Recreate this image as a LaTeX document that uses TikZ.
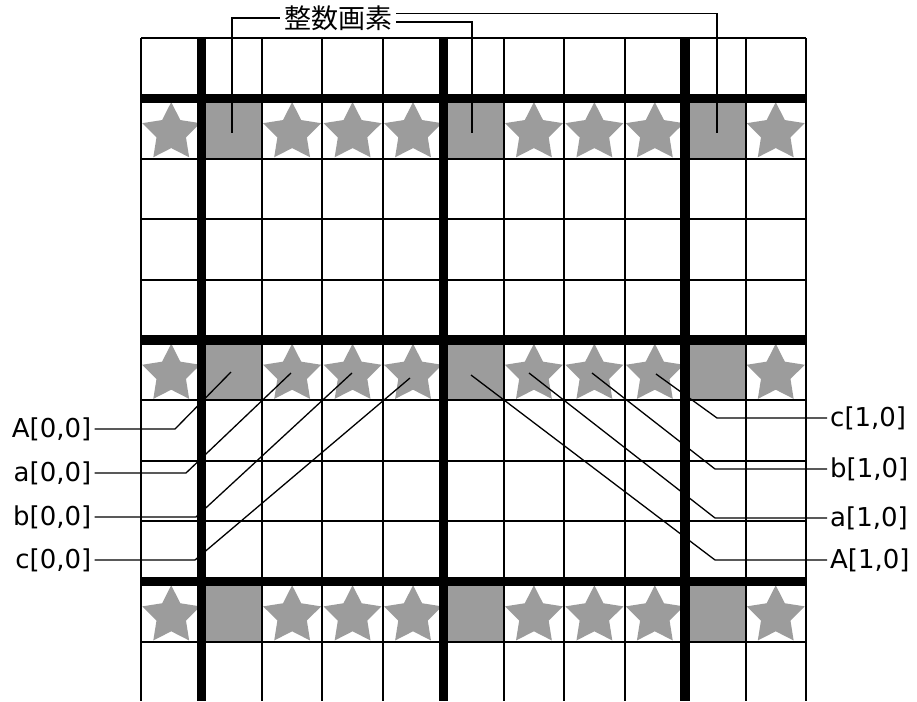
\documentclass[tikz,border=0pt]{standalone}
\usepackage{fontspec}
\setmainfont{DejaVu Sans}
\newfontfamily\jpfont{Noto Sans CJK JP}
\definecolor{pixgray}{RGB}{156,156,156}
\tikzset{
  lbl/.style={inner sep=3pt, font=\fontsize{26}{30}\selectfont},
  leader/.style={line width=1.3pt, black},
  thinline/.style={line width=2pt, black},
  thickline/.style={line width=9.5pt, black},
  cellfill/.style={fill=pixgray},
}
\begin{document}
\begin{tikzpicture}[x=1pt,y=-1pt]
\useasboundingbox (0,0) rectangle (917,701);
\fill[white] (0,0) rectangle (917,701);

% gray integer pixels
\foreach \r in {1,5,9}{
  \foreach \c in {1,5,9}{
    \fill[cellfill] ({141+\c*60.45},{38+\r*60.4}) rectangle ({141+(\c+1)*60.45},{38+(\r+1)*60.4});
  }
}
% stars
\foreach \r in {1,5,9}{
  \foreach \c in {0,2,3,4,6,7,8,10}{
    \fill[pixgray,shift={({141+(\c+0.5)*60.45},{38+(\r+0.5)*60.4+4})}]
      (-90:30.5) -- (-54:15.5) -- (-18:30.5) -- (18:15.5) -- (54:30.5) -- (90:15.5)
      -- (126:30.5) -- (162:15.5) -- (198:30.5) -- (234:15.5) -- cycle;
  }
}

% labels
\node[lbl, anchor=east] (lA0) at (94.5,429) {A[0,0]};
\node[lbl, anchor=east] (la0) at (94.5,473) {a[0,0]};
\node[lbl, anchor=east] (lb0) at (94.5,517) {b[0,0]};
\node[lbl, anchor=east] (lc0) at (94.5,560) {c[0,0]};
\node[lbl, anchor=west] (lc1) at (827,418) {c[1,0]};
\node[lbl, anchor=west] (lb1) at (827,469) {b[1,0]};
\node[lbl, anchor=west] (la1) at (827,518) {a[1,0]};
\node[lbl, anchor=west] (lA1) at (827,560) {A[1,0]};
\node[inner sep=4pt, font=\jpfont\fontsize{27}{30}\selectfont] (title) at (338,18) {整数画素};

% targets and bends
\coordinate (tA0) at (231,372);
\coordinate (ta0) at (291,373);
\coordinate (tb0) at (352,373);
\coordinate (tc0) at (410,378);
\coordinate (tc1) at (656,374);
\coordinate (tb1) at (592,373);
\coordinate (ta1) at (529,373);
\coordinate (tA1) at (471,375);
\coordinate (bA0) at (175,429);
\coordinate (ba0) at (186,473);
\coordinate (bb0) at (196,517);
\coordinate (bc0) at (195,560);
\coordinate (bc1) at (717,418);
\coordinate (bb1) at (715,469);
\coordinate (ba1) at (715,518);
\coordinate (bA1) at (715,560);
\coordinate (p1) at (232,133);
\coordinate (p5) at (472,133);
\coordinate (p9) at (717,133);

\draw[leader] (lA0.east) -- (bA0) -- (tA0);
\draw[leader] (la0.east) -- (ba0) -- (ta0);
\draw[leader] (lb0.east) -- (bb0) -- (tb0);
\draw[leader] (lc0.east) -- (bc0) -- (tc0);
\draw[leader] (lc1.west) -- (bc1) -- (tc1);
\draw[leader] (lb1.west) -- (bb1) -- (tb1);
\draw[leader] (la1.west) -- (ba1) -- (ta1);
\draw[leader] (lA1.west) -- (bA1) -- (tA1);
\draw[leader] (title.west) -| (p1);
\draw[leader] ([yshift=-4pt]title.east) -| (p5);
\draw[leader] ([yshift=4.5pt]title.east) -| (p9);

% thin grid
\foreach \c in {0,...,11}{
  \draw[thinline] ({141+\c*60.45},38) -- ({141+\c*60.45},701);
}
\foreach \r in {0,...,10}{
  \draw[thinline] (141,{38+\r*60.4}) -- (806,{38+\r*60.4});
}
% thick grid
\foreach \c in {1,5,9}{
  \draw[thickline] ({141+\c*60.45},37) -- ({141+\c*60.45},701);
}
\foreach \r in {1,5,9}{
  \draw[thickline] (140,{38+\r*60.4}) -- (807,{38+\r*60.4});
}
\end{tikzpicture}
\end{document}
